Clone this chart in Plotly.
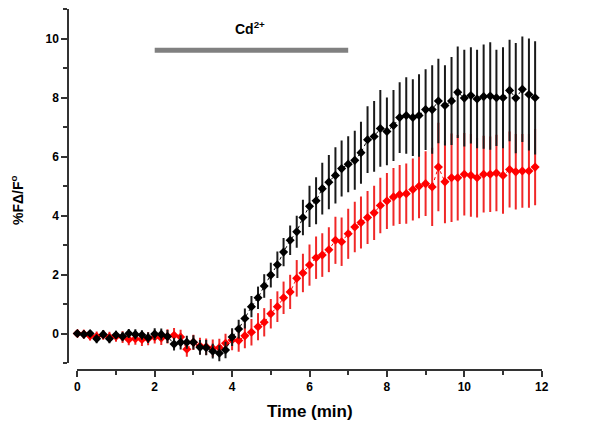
import plotly.graph_objects as go

# ---- data ----
time_min = [0.00, 0.17, 0.33, 0.50, 0.67, 0.83, 1.00, 1.17, 1.33, 1.50, 1.67, 1.83,
            2.00, 2.17, 2.33, 2.50, 2.67, 2.83, 3.00, 3.17, 3.33, 3.50, 3.67, 3.83,
            4.00, 4.17, 4.33, 4.50, 4.67, 4.83, 5.00, 5.17, 5.33, 5.50, 5.67, 5.83,
            6.00, 6.17, 6.33, 6.50, 6.67, 6.83, 7.00, 7.17, 7.33, 7.50, 7.67, 7.83,
            8.00, 8.17, 8.33, 8.50, 8.67, 8.83, 9.00, 9.17, 9.33, 9.50, 9.67, 9.83,
            10.00, 10.17, 10.33, 10.50, 10.67, 10.83, 11.00, 11.17, 11.33, 11.50, 11.67, 11.83]

con_mean = [0.00, -0.03, 0.00, -0.18, -0.03, -0.18, -0.05, -0.10, 0.00, -0.03, -0.05, -0.14,
            -0.02, -0.03, -0.10, -0.36, -0.30, -0.30, -0.30, -0.47, -0.48, -0.60, -0.67, -0.56,
            -0.12, 0.15, 0.51, 0.91, 1.21, 1.61, 1.98, 2.33, 2.76, 3.16, 3.45, 3.93,
            4.31, 4.50, 4.91, 5.13, 5.36, 5.59, 5.74, 5.87, 6.13, 6.57, 6.68, 6.95,
            6.85, 7.05, 7.32, 7.39, 7.32, 7.39, 7.59, 7.59, 7.88, 7.73, 7.88, 8.18,
            7.98, 8.07, 7.95, 8.03, 8.05, 7.99, 7.99, 8.24, 7.98, 8.28, 8.10, 7.99]

con_err = [0.12, 0.13, 0.12, 0.15, 0.14, 0.15, 0.14, 0.16, 0.15, 0.17, 0.16, 0.18,
           0.20, 0.20, 0.22, 0.22, 0.24, 0.22, 0.24, 0.25, 0.26, 0.25, 0.27, 0.28,
           0.30, 0.32, 0.34, 0.36, 0.38, 0.40, 0.42, 0.45, 0.48, 0.50, 0.54, 0.60,
           0.70, 0.80, 0.88, 0.92, 0.95, 0.95, 0.95, 1.00, 1.05, 1.13, 1.20, 1.30,
           1.15, 1.20, 1.20, 1.30, 1.30, 1.40, 1.37, 1.50, 1.43, 1.36, 1.49, 1.55,
           1.64, 1.63, 1.67, 1.77, 1.82, 1.63, 1.71, 1.72, 1.87, 1.79, 1.90, 1.92]

his_mean = [0.00, -0.02, -0.08, -0.10, -0.05, -0.12, -0.10, -0.12, -0.20, -0.18, -0.20, -0.18,
            -0.12, -0.15, -0.10, -0.06, -0.12, -0.53, -0.30, -0.42, -0.45, -0.50, -0.48, -0.33,
            -0.22, -0.24, -0.08, 0.04, 0.23, 0.38, 0.67, 0.91, 1.21, 1.41, 1.87, 2.05,
            2.32, 2.57, 2.66, 2.84, 3.16, 3.11, 3.38, 3.61, 3.76, 3.93, 4.09, 4.34,
            4.49, 4.63, 4.71, 4.74, 4.88, 4.99, 5.08, 4.97, 5.64, 5.14, 5.28, 5.28,
            5.40, 5.36, 5.28, 5.40, 5.40, 5.44, 5.36, 5.56, 5.48, 5.51, 5.51, 5.64]

his_err = [0.15, 0.15, 0.16, 0.17, 0.16, 0.18, 0.18, 0.20, 0.20, 0.20, 0.22, 0.22,
           0.22, 0.24, 0.24, 0.25, 0.25, 0.26, 0.26, 0.28, 0.28, 0.30, 0.30, 0.32,
           0.35, 0.38, 0.42, 0.45, 0.46, 0.48, 0.50, 0.52, 0.55, 0.58, 0.62, 0.65,
           0.70, 0.72, 0.74, 0.76, 0.80, 0.82, 0.85, 0.86, 0.88, 0.90, 0.92, 0.94,
           0.95, 0.98, 1.00, 1.02, 1.05, 1.08, 1.10, 1.33, 1.50, 1.40, 1.50, 1.45,
           1.40, 1.40, 1.35, 1.30, 1.28, 1.30, 1.30, 1.29, 1.28, 1.25, 1.25, 1.29]

cd_start, cd_end, cd_level = 2.0, 7.0, 9.6
x_ticks = [0, 2, 4, 6, 8, 10, 12]
y_ticks = [0, 2, 4, 6, 8, 10]

FONT = "Arial, Liberation Sans, sans-serif"
W, H = 604, 427

fig = go.Figure()

fig.add_trace(go.Scatter(
    x=time_min, y=his_mean, mode="lines+markers", name="L-His",
    line=dict(color="#ff0000", width=1, dash="dot"),
    marker=dict(symbol="diamond", size=7, color="#ff0000"),
    error_y=dict(type="data", array=his_err, visible=True, thickness=2, width=0, color="#f02828"),
    cliponaxis=False, showlegend=False,
))
fig.add_trace(go.Scatter(
    x=time_min, y=con_mean, mode="lines+markers", name="con",
    line=dict(color="#000000", width=1, dash="dot"),
    marker=dict(symbol="diamond", size=7, color="#000000"),
    error_y=dict(type="data", array=con_err, visible=True, thickness=2, width=0, color="#1a1a1a"),
    cliponaxis=False, showlegend=False,
))

# Cd2+ application bar
fig.add_shape(type="line", xref="x", yref="y", x0=cd_start, x1=cd_end, y0=cd_level, y1=cd_level,
              line=dict(color="#808080", width=5))

fig.add_annotation(x=4.02, y=10.34, xref="x", yref="y", text="<b>Cd<sup>2+</sup></b>",
                   showarrow=False, xanchor="left", yanchor="middle",
                   font=dict(family=FONT, size=14, color="#000"))
fig.add_annotation(x=12.4, y=8.07, xref="x", yref="y", text="<b>con</b>",
                   showarrow=False, xanchor="left", yanchor="middle",
                   font=dict(family=FONT, size=14, color="#000"))
fig.add_annotation(x=12.4, y=5.77, xref="x", yref="y", text="<b>L-His</b>",
                   showarrow=False, xanchor="left", yanchor="middle",
                   font=dict(family=FONT, size=14, color="#000"))

# axis titles
fig.add_annotation(x=309.5 / W, y=1 - 411 / H, xref="paper", yref="paper",
                   text="<b>Time (min)</b>", showarrow=False, xanchor="center", yanchor="middle",
                   font=dict(family=FONT, size=17, color="#000"))
fig.add_annotation(x=17 / W, y=1 - 200 / H, xref="paper", yref="paper",
                   text="<b>%FΔ/F<sup>o</sup></b>", showarrow=False, textangle=-90,
                   xanchor="center", yanchor="middle",
                   font=dict(family=FONT, size=14, color="#000"))

axis_common = dict(
    showline=True, linewidth=1.5, linecolor="#333333", showgrid=False, zeroline=False,
    automargin=False,
    ticks="outside", ticklen=6, tickwidth=1.5, tickcolor="#333333",
    tickfont=dict(family=FONT, size=12, color="#000", weight="bold"),
    minor=dict(ticks="outside", ticklen=4, tickwidth=1.5, tickcolor="#333333", dtick=1, showgrid=False),
)

fig.update_layout(
    width=W, height=H,
    margin=dict(l=0, r=0, t=0, b=0, autoexpand=False),
    paper_bgcolor="white", plot_bgcolor="white",
    xaxis=dict(domain=[77.3 / W, 541.7 / W], range=[0, 12], anchor="free",
               position=1 - 370 / H, tickvals=x_ticks, **axis_common),
    yaxis=dict(domain=[1 - 363 / H, 1 - 9 / H], range=[-1, 11], anchor="free",
               position=68 / W, tickvals=y_ticks, **axis_common),
)

fig.write_html("out.html", config={"displayModeBar": False},
               post_script="document.body.style.margin='0px';document.body.style.overflow='hidden';")
